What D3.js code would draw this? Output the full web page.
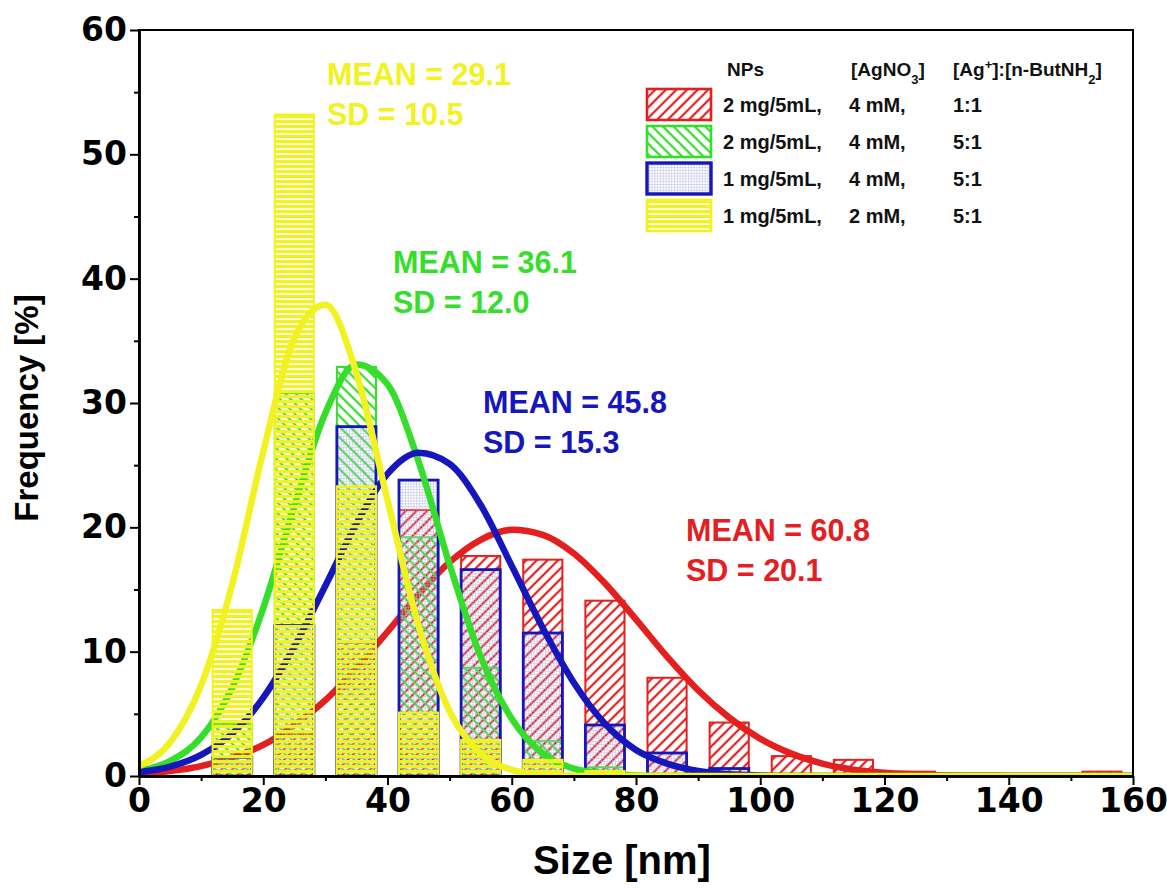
<!DOCTYPE html>
<html>
<head>
<meta charset="utf-8">
<script src="https://cdn.jsdelivr.net/npm/d3@7"></script>
<style>
body { margin: 0; background: #fff; }
text { font-family: "Liberation Sans", Arial, sans-serif; font-weight: bold; }
</style>
</head>
<body>
<div id="chart"></div>
<script>
// histogram bin centres [nm]
var binCenters = [15, 25, 35, 45, 55, 65, 75, 85, 95, 105, 115, 125, 135, 145, 155];
// frequencies [%] per sample
var redFreq    = [1.1, 3.4, 10.7, 21.4, 17.7, 17.4, 14.1, 7.9, 4.3, 1.6, 1.3, 0.35, 0, 0, 0.35];
var greenFreq  = [4.2, 30.8, 32.9, 19.2, 8.7, 2.8, 0.7, 0, 0, 0, 0, 0, 0, 0, 0];
var blueFreq   = [1.5, 12.1, 28.1, 23.8, 16.6, 11.5, 4.1, 1.85, 0.6, 0, 0, 0, 0, 0, 0];
var yellowFreq = [13.35, 53.2, 23.3, 5.1, 2.9, 1.3, 0.4, 0, 0, 0, 0, 0, 0, 0, 0];

var curveX = [0, 5, 10, 15, 20, 25, 30, 35, 40, 45, 50, 55, 60, 65, 70, 75, 80,
              85, 90, 95, 100, 105, 110, 115, 120, 125, 130, 135, 140, 145, 150, 155, 160];
var redFit    = [0.2, 0.4, 0.8, 1.5, 2.5, 4.1, 6.1, 8.7, 11.6, 14.6, 17.2, 19.0, 19.8, 19.4, 17.9, 15.5, 12.6,
                 9.6, 6.9, 4.7, 3.0, 1.8, 1.0, 0.5, 0.26, 0.12, 0.05, 0.02, 0.01, 0, 0, 0, 0];
var greenFit  = [0.4, 1.2, 3.1, 7.1, 13.5, 21.7, 29.2, 33.1, 31.5, 25.3, 17.0, 9.6, 4.6, 1.8, 0.6, 0.2, 0.05,
                 0, 0, 0, 0, 0, 0, 0, 0, 0, 0, 0, 0, 0, 0, 0, 0];
var blueFit   = [0.3, 0.75, 1.7, 3.4, 6.3, 10.4, 15.3, 20.3, 24.3, 26.0, 25.1, 21.8, 16.9, 11.9, 7.5, 4.2, 2.1,
                 1.0, 0.4, 0.15, 0.05, 0, 0, 0, 0, 0, 0, 0, 0, 0, 0, 0, 0];
var yellowFit = [0.8, 2.7, 7.3, 15.4, 26.1, 35.2, 37.9, 32.4, 22.2, 12.1, 5.2, 1.8, 0.5, 0.1, 0, 0, 0,
                 0, 0, 0, 0, 0, 0, 0, 0, 0, 0, 0, 0, 0, 0, 0, 0];

var meanLabels = ["MEAN = 60.8", "MEAN = 36.1", "MEAN = 45.8", "MEAN = 29.1"];
var sdLabels   = ["SD = 20.1", "SD = 12.0", "SD = 15.3", "SD = 10.5"];

var legendHeader = ["NPs", "[AgNO3]", "[Ag+]:[n-ButNH2]"];
var legendNPs  = ["2 mg/5mL,", "2 mg/5mL,", "1 mg/5mL,", "1 mg/5mL,"];
var legendAg   = ["4 mM,", "4 mM,", "4 mM,", "2 mM,"];
var legendRatio = ["1:1", "5:1", "5:1", "5:1"];

var xTicks = [0, 20, 40, 60, 80, 100, 120, 140, 160];
var yTicks = [0, 10, 20, 30, 40, 50, 60];

var RED = "#e3201f", GREEN = "#36de2c", BLUE = "#1616bd", YELLOW = "#f2f222";

var margin = { top: 30, right: 34, bottom: 112, left: 139 };
var width = 1167, height = 888;
var w = width - margin.left - margin.right;
var h = height - margin.top - margin.bottom;

var x = d3.scaleLinear().domain([0, 160]).range([0, w]);
var y = d3.scaleLinear().domain([0, 60]).range([h, 0]);

var svg = d3.select("#chart").append("svg")
    .attr("width", width)
    .attr("height", height);

var defs = svg.append("defs");

function hatch(id, color, angle) {
    var p = defs.append("pattern")
        .attr("id", id)
        .attr("patternUnits", "userSpaceOnUse")
        .attr("width", 7.5).attr("height", 7.5)
        .attr("patternTransform", "rotate(" + angle + ")");
    p.append("line")
        .attr("x1", 3.75).attr("y1", 0).attr("x2", 3.75).attr("y2", 7.5)
        .attr("stroke", color).attr("stroke-width", 2.2);
}
hatch("hatchRed", RED, 45);
hatch("hatchGreen", GREEN, -45);

var grid = defs.append("pattern")
    .attr("id", "gridBlue")
    .attr("patternUnits", "userSpaceOnUse")
    .attr("width", 2.8).attr("height", 2.8);
grid.append("path")
    .attr("d", "M0,0.3H2.8M0.3,0V2.8")
    .attr("stroke", "#b4b8e0").attr("stroke-width", 0.6).attr("fill", "none");

var stripes = defs.append("pattern")
    .attr("id", "stripesYellow")
    .attr("patternUnits", "userSpaceOnUse")
    .attr("width", 10).attr("height", 5);
stripes.append("rect")
    .attr("width", 10).attr("height", 3.3)
    .attr("fill", YELLOW);

defs.append("clipPath").attr("id", "plotClip")
    .append("rect").attr("width", w).attr("height", h);

var g = svg.append("g")
    .attr("transform", "translate(" + margin.left + "," + margin.top + ")");

var series = {
    red:    { freq: redFreq,    fit: redFit,    color: RED,    fill: "url(#hatchRed)",      sw: 2 },
    green:  { freq: greenFreq,  fit: greenFit,  color: GREEN,  fill: "url(#hatchGreen)",    sw: 2 },
    blue:   { freq: blueFreq,   fit: blueFit,   color: BLUE,   fill: "url(#gridBlue)",      sw: 2.8 },
    yellow: { freq: yellowFreq, fit: yellowFit, color: YELLOW, fill: "url(#stripesYellow)", sw: 2 }
};

var barHalf = 3.15;
var plot = g.append("g").attr("clip-path", "url(#plotClip)");

function drawBars(s) {
    var rows = binCenters.map(function (c, i) { return { c: c, v: s.freq[i] }; })
        .filter(function (d) { return d.v > 0; });
    plot.append("g").selectAll("rect")
        .data(rows)
        .enter().append("rect")
        .attr("x", function (d) { return x(d.c - barHalf); })
        .attr("width", function (d) { return x(d.c + barHalf) - x(d.c - barHalf); })
        .attr("y", function (d) { return y(d.v); })
        .attr("height", function (d) { return y(0) - y(d.v); })
        .attr("fill", s.fill)
        .attr("stroke", s.color)
        .attr("stroke-width", s.sw);
}

var line = d3.line()
    .x(function (d) { return x(d[0]); })
    .y(function (d) { return y(d[1]); })
    .curve(d3.curveMonotoneX);

function drawFit(s) {
    plot.append("path")
        .datum(curveX.map(function (v, i) { return [v, s.fit[i]]; }))
        .attr("d", line)
        .attr("fill", "none")
        .attr("stroke", s.color)
        .attr("stroke-width", 6.5)
        .attr("stroke-linecap", "round");
}

drawFit(series.red);
drawBars(series.red);
drawBars(series.green);
drawBars(series.blue);
drawFit(series.green);
drawFit(series.blue);
drawBars(series.yellow);
drawFit(series.yellow);

// frame
g.append("rect")
    .attr("width", w).attr("height", h)
    .attr("fill", "none").attr("stroke", "#000").attr("stroke-width", 2);

// axes
var xAxis = d3.axisBottom(x).tickValues(xTicks).tickSize(9).tickSizeOuter(0).tickPadding(4);
var xMinor = d3.axisBottom(x).tickValues(d3.range(10, 160, 20)).tickSize(5).tickSizeOuter(0).tickFormat("");
var yAxis = d3.axisLeft(y).tickValues(yTicks).tickSize(9).tickSizeOuter(0).tickPadding(3);
var yMinor = d3.axisLeft(y).tickValues(d3.range(5, 60, 10)).tickSize(5).tickSizeOuter(0).tickFormat("");

function styleAxis(sel) {
    sel.select(".domain").attr("stroke-width", 2.5);
    sel.selectAll(".tick line").attr("stroke-width", 2);
    sel.selectAll("text")
        .style("font-family", "'DejaVu Sans', sans-serif")
        .style("font-weight", "bold")
        .style("font-size", "33px")
        .attr("fill", "#000");
}

g.append("g").attr("transform", "translate(0," + h + ")").call(xAxis).call(styleAxis);
g.append("g").attr("transform", "translate(0," + h + ")").call(xMinor).call(styleAxis);
g.append("g").call(yAxis).call(styleAxis);
g.append("g").call(yMinor).call(styleAxis);

// axis titles
g.append("text")
    .attr("x", w / 2 - 14).attr("y", h + 98)
    .attr("text-anchor", "middle")
    .style("font-size", "40px")
    .text("Size [nm]");

g.append("text")
    .attr("transform", "translate(-101," + (h / 2 + 5) + ") rotate(-90)")
    .attr("text-anchor", "middle")
    .style("font-size", "33px")
    .text("Frequency [%]");

// mean / SD annotations
var annot = [
    { c: RED,    px: 547, py: 511 },
    { c: GREEN,  px: 254, py: 243 },
    { c: BLUE,   px: 344, py: 383 },
    { c: YELLOW, px: 188, py: 55 }
];
annot.forEach(function (a, i) {
    g.append("text").attr("x", a.px).attr("y", a.py)
        .attr("fill", a.c).style("font-size", "30.5px").text(meanLabels[i]);
    g.append("text").attr("x", a.px).attr("y", a.py + 40)
        .attr("fill", a.c).style("font-size", "30.5px").text(sdLabels[i]);
});

// legend
var leg = g.append("g").attr("transform", "translate(507,0)");
var colX = [77, 203, 307];
var hdr = leg.append("g").style("font-size", "19px").attr("fill", "#111");
hdr.append("text").attr("x", colX[0] + 4).attr("y", 46).text(legendHeader[0]);
var h2 = hdr.append("text").attr("x", colX[1] + 2).attr("y", 46);
h2.append("tspan").text("[AgNO");
h2.append("tspan").attr("baseline-shift", "sub").style("font-size", "13px").text("3");
h2.append("tspan").text("]");
var h3 = hdr.append("text").attr("x", colX[2]).attr("y", 46);
h3.append("tspan").text("[Ag");
h3.append("tspan").attr("baseline-shift", "super").style("font-size", "13px").text("+");
h3.append("tspan").text("]:[n-ButNH");
h3.append("tspan").attr("baseline-shift", "sub").style("font-size", "13px").text("2");
h3.append("tspan").text("]");

var legSeries = [series.red, series.green, series.blue, series.yellow];
legSeries.forEach(function (s, i) {
    var top = 58 + i * 37;
    leg.append("rect")
        .attr("x", 1).attr("y", top + 1)
        .attr("width", 64).attr("height", 31)
        .attr("fill", s.fill).attr("stroke", s.color).attr("stroke-width", s.sw + 0.6);
    var t = leg.append("g").style("font-size", "20px").attr("fill", "#111");
    t.append("text").attr("x", colX[0]).attr("y", top + 24).text(legendNPs[i]);
    t.append("text").attr("x", colX[1]).attr("y", top + 24).text(legendAg[i]);
    t.append("text").attr("x", colX[2]).attr("y", top + 24).text(legendRatio[i]);
});
</script>
</body>
</html>
